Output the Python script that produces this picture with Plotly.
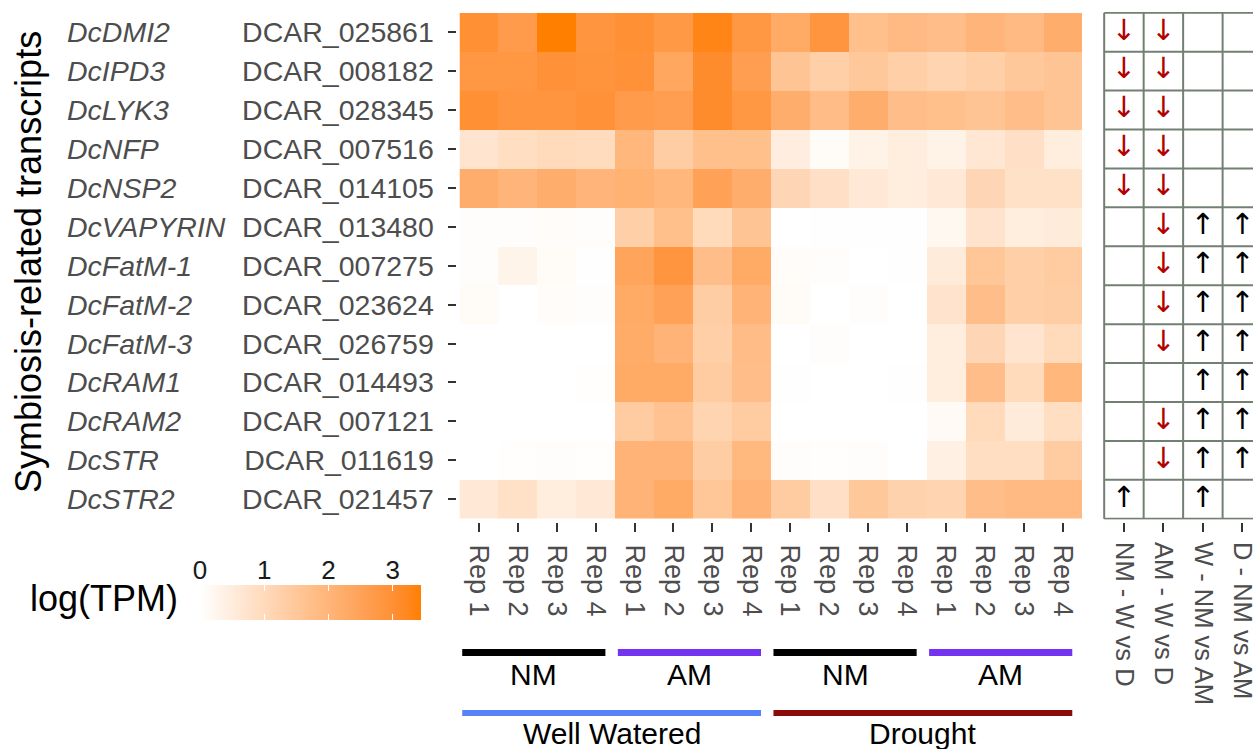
import numpy as np
import plotly.graph_objects as go

# ---- data -------------------------------------------------------------
genes = ["DcDMI2", "DcIPD3", "DcLYK3", "DcNFP", "DcNSP2", "DcVAPYRIN",
         "DcFatM-1", "DcFatM-2", "DcFatM-3", "DcRAM1", "DcRAM2", "DcSTR", "DcSTR2"]
transcripts = ["DCAR_025861", "DCAR_008182", "DCAR_028345", "DCAR_007516",
               "DCAR_014105", "DCAR_013480", "DCAR_007275", "DCAR_023624",
               "DCAR_026759", "DCAR_014493", "DCAR_007121", "DCAR_011619",
               "DCAR_021457"]
reps = ["Rep 1", "Rep 2", "Rep 3", "Rep 4"]

# log(TPM): one row per transcript, one column per replicate
ww_nm = [
    [3.00, 2.70, 3.44, 2.85],
    [2.80, 2.80, 2.95, 2.90],
    [3.00, 2.85, 2.85, 2.95],
    [0.70, 0.90, 1.00, 0.95],
    [2.20, 2.00, 2.20, 2.00],
    [0.05, 0.05, 0.08, 0.05],
    [0.05, 0.30, 0.10, 0.02],
    [0.10, 0.00, 0.08, 0.05],
    [0.00, 0.00, 0.00, 0.00],
    [0.00, 0.00, 0.00, 0.03],
    [0.00, 0.00, 0.00, 0.00],
    [0.00, 0.03, 0.05, 0.03],
    [0.60, 0.80, 0.50, 0.60],
]
ww_am = [
    [3.00, 2.75, 3.30, 2.80],
    [2.95, 2.40, 3.10, 2.60],
    [2.70, 2.60, 3.10, 2.80],
    [1.95, 1.35, 1.70, 1.70],
    [2.10, 1.95, 2.50, 2.20],
    [1.30, 1.70, 1.00, 1.60],
    [2.45, 2.85, 1.75, 2.30],
    [2.30, 2.50, 1.35, 2.05],
    [2.25, 2.05, 1.30, 1.80],
    [2.30, 2.30, 1.40, 1.75],
    [1.40, 1.65, 1.15, 1.40],
    [2.05, 2.05, 1.35, 1.90],
    [2.05, 2.30, 1.55, 2.05],
]
d_nm = [
    [2.30, 2.85, 1.70, 1.85],
    [1.60, 1.30, 1.50, 1.30],
    [2.20, 1.80, 2.20, 1.75],
    [0.45, 0.10, 0.35, 0.50],
    [1.10, 0.85, 0.60, 0.50],
    [0.00, 0.02, 0.02, 0.02],
    [0.08, 0.05, 0.00, 0.02],
    [0.12, 0.00, 0.05, 0.00],
    [0.00, 0.06, 0.00, 0.00],
    [0.02, 0.00, 0.00, 0.02],
    [0.00, 0.00, 0.00, 0.00],
    [0.05, 0.03, 0.05, 0.00],
    [1.40, 0.85, 1.50, 1.20],
]
d_am = [
    [1.75, 2.00, 1.85, 2.20],
    [1.15, 1.30, 1.50, 1.60],
    [1.70, 1.60, 1.75, 1.60],
    [0.35, 0.65, 0.85, 0.50],
    [0.60, 1.10, 0.80, 0.80],
    [0.20, 0.75, 0.50, 0.55],
    [0.55, 1.55, 1.30, 1.40],
    [0.75, 1.75, 1.30, 1.35],
    [0.50, 1.10, 0.70, 1.00],
    [0.50, 1.75, 1.00, 1.95],
    [0.15, 1.00, 0.55, 0.90],
    [0.40, 0.90, 0.90, 1.40],
    [1.15, 1.75, 1.85, 1.85],
]

groups = ["NM", "AM", "NM", "AM"]
group_colors = ["#000000", "#7433F0", "#000000", "#7433F0"]
watering = ["Well Watered", "Drought"]
watering_colors = ["#5882F8", "#8B0A0A"]

comparisons = ["NM - W vs D", "AM - W vs D", "W - NM vs AM", "D - NM vs AM"]
# direction of significant change per transcript for each comparison
nm_w_vs_d = ["down"] * 5 + [""] * 7 + ["up"]
am_w_vs_d = ["down"] * 9 + [""] + ["down"] * 2 + [""]
w_nm_vs_am = [""] * 5 + ["up"] * 8
d_nm_vs_am = [""] * 5 + ["up"] * 7 + [""]

# ---- colour scale: white -> darkorange1, interpolated in CIELAB --------
def _hex_to_lab(h):
    rgb = np.array([int(h[i:i + 2], 16) for i in (1, 3, 5)]) / 255.0
    lin = np.where(rgb <= 0.04045, rgb / 12.92, ((rgb + 0.055) / 1.055) ** 2.4)
    m = np.array([[0.4124, 0.3576, 0.1805],
                  [0.2126, 0.7152, 0.0722],
                  [0.0193, 0.1192, 0.9505]])
    xyz = m @ lin / np.array([0.95047, 1.0, 1.08883])
    f = np.where(xyz > 0.008856, np.cbrt(xyz), 7.787 * xyz + 16 / 116)
    return np.array([116 * f[1] - 16, 500 * (f[0] - f[1]), 200 * (f[1] - f[2])])


def _lab_to_hex(lab):
    L, a, b = lab
    fy = (L + 16) / 116
    fx = fy + a / 500
    fz = fy - b / 200
    f = np.array([fx, fy, fz])
    xyz = np.where(f ** 3 > 0.008856, f ** 3, (f - 16 / 116) / 7.787)
    xyz = xyz * np.array([0.95047, 1.0, 1.08883])
    mi = np.array([[3.2406, -1.5372, -0.4986],
                   [-0.9689, 1.8758, 0.0415],
                   [0.0557, -0.2040, 1.0570]])
    lin = np.clip(mi @ xyz, 0, 1)
    rgb = np.where(lin <= 0.0031308, 12.92 * lin, 1.055 * lin ** (1 / 2.4) - 0.055)
    r, g, bb = (np.clip(rgb, 0, 1) * 255).round().astype(int)
    return f"#{r:02X}{g:02X}{bb:02X}"


lab_lo, lab_hi = _hex_to_lab("#FFFFFF"), _hex_to_lab("#FF7F00")
colorscale = [[t, _lab_to_hex(lab_lo + (lab_hi - lab_lo) * t)]
              for t in np.linspace(0, 1, 21)]

# ---- assemble matrix ----------------------------------------------------
z = np.hstack([np.array(ww_nm), np.array(ww_am), np.array(d_nm), np.array(d_am)])
zmin, zmax = 0.0, float(z.max())
n_rows, n_cols = z.shape
col_labels = reps * 4

# ---- layout helpers (pixel -> paper) -----------------------------------
W, H = 1253, 749
def px(x):
    return x / W
def py(y):
    return 1 - y / H

GRAY_TXT = "#4D4D4D"
FONT = "Liberation Sans, Arial, Helvetica, sans-serif"

fig = go.Figure()

fig.add_trace(go.Heatmap(
    z=z, x=list(range(n_cols)), y=list(range(n_rows)),
    colorscale=colorscale, zmin=zmin, zmax=zmax, showscale=False,
    xaxis="x", yaxis="y", hoverinfo="skip",
))

# colour key drawn as a gradient strip on its own axis
key_vals = np.linspace(zmin, zmax, 256)
fig.add_trace(go.Heatmap(
    z=[key_vals], x=key_vals, y=[0],
    colorscale=colorscale, zmin=zmin, zmax=zmax, showscale=False,
    xaxis="x3", yaxis="y3", hoverinfo="skip",
))

# significance arrows
arrow_cols = [nm_w_vs_d, am_w_vs_d, w_nm_vs_am, d_nm_vs_am]
for direction, glyph, colour in (("down", "↓", "#B40000"), ("up", "↑", "#000000")):
    ax, ay = [], []
    for ci, col in enumerate(arrow_cols):
        for ri, v in enumerate(col):
            if v == direction:
                ax.append(ci)
                ay.append(ri)
    fig.add_trace(go.Scatter(
        x=ax, y=ay, text=[glyph] * len(ax), mode="text", textposition="middle center",
        textfont=dict(size=29, color=colour, family="DejaVu Sans"),
        xaxis="x2", yaxis="y2", hoverinfo="skip", showlegend=False, cliponaxis=False,
    ))

shapes = []
grid_col = "#737F73"
for k in range(len(comparisons) + 1):
    shapes.append(dict(type="line", xref="x2", yref="y2", x0=k - 0.5, x1=k - 0.5,
                       y0=-0.5, y1=n_rows - 0.5, line=dict(color=grid_col, width=2)))
for k in range(n_rows + 1):
    shapes.append(dict(type="line", xref="x2", yref="y2", x0=-0.5, x1=len(comparisons) - 0.5,
                       y0=k - 0.5, y1=k - 0.5, line=dict(color=grid_col, width=2)))

annotations = []
# group bars and labels under the sample columns
for gi, (g, c) in enumerate(zip(groups, group_colors)):
    x0 = gi * 4 - 0.5 + 0.07
    x1 = gi * 4 + 3.5 - 0.25
    shapes.append(dict(type="rect", xref="x", yref="paper", x0=x0, x1=x1,
                       y0=py(656), y1=py(649), fillcolor=c, line=dict(width=0)))
    annotations.append(dict(text=g, xref="x", yref="paper", x=(x0 + x1) / 2, y=py(674),
                            showarrow=False, xanchor="center", yanchor="middle",
                            font=dict(size=30, color="#000000", family=FONT)))
for wi, (wl, c) in enumerate(zip(watering, watering_colors)):
    x0 = wi * 8 - 0.5 + 0.07
    x1 = wi * 8 + 7.5 - 0.25
    shapes.append(dict(type="rect", xref="x", yref="paper", x0=x0, x1=x1,
                       y0=py(716), y1=py(710), fillcolor=c, line=dict(width=0)))
    annotations.append(dict(text=wl, xref="x", yref="paper", x=(x0 + x1) / 2, y=py(733),
                            showarrow=False, xanchor="center", yanchor="middle",
                            font=dict(size=30, color="#000000", family=FONT)))

# italic gene names
for ri, g in enumerate(genes):
    annotations.append(dict(text=f"<i>{g}</i>", xref="paper", yref="y", x=px(65), y=ri,
                            showarrow=False, xanchor="left", yanchor="middle",
                            font=dict(size=28.5, color=GRAY_TXT, family=FONT)))

annotations.append(dict(text="Symbiosis-related transcripts", xref="paper", yref="paper",
                        x=px(28), y=py(262), textangle=-90, showarrow=False,
                        xanchor="center", yanchor="middle",
                        font=dict(size=36, color="#000000", family=FONT)))
annotations.append(dict(text="log(TPM)", xref="paper", yref="paper",
                        x=px(104), y=py(598), showarrow=False,
                        xanchor="center", yanchor="middle",
                        font=dict(size=36, color="#000000", family=FONT)))

tick_common = dict(ticks="outside", tickwidth=2, tickcolor="#333333", automargin=False,
                   showgrid=False, zeroline=False, showline=False)

fig.update_layout(
    width=W, height=H,
    margin=dict(l=0, r=0, t=0, b=0, autoexpand=False),
    paper_bgcolor="white", plot_bgcolor="white",
    showlegend=False,
    font=dict(family=FONT),
    xaxis=dict(domain=[px(459.5), px(1082)], range=[-0.5, n_cols - 0.5],
               tickvals=list(range(n_cols)), ticktext=col_labels, tickangle=90,
               ticklen=9, anchor="free", position=py(522), ticklabelstandoff=7,
               tickfont=dict(size=27, color=GRAY_TXT), **tick_common),
    yaxis=dict(domain=[py(518.5), py(13)], range=[n_rows - 0.5, -0.5],
               tickvals=list(range(n_rows)), ticktext=transcripts,
               ticklen=8, anchor="free", position=px(455.5), ticklabelstandoff=8,
               tickfont=dict(size=28.5, color=GRAY_TXT), **tick_common),
    xaxis2=dict(domain=[px(1103), 1], range=[-0.53, 3.27],
                tickvals=list(range(len(comparisons))), ticktext=comparisons,
                tickangle=90, ticklen=9, anchor="free", position=py(522),
                ticklabeloverflow="allow",
                ticklabelstandoff=5, tickfont=dict(size=25.5, color=GRAY_TXT), **tick_common),
    yaxis2=dict(domain=[py(519.5), py(12)], range=[n_rows - 0.5 + 0.02, -0.5 - 0.02],
                showticklabels=False, showgrid=False, zeroline=False, anchor="x2",
                automargin=False),
    xaxis3=dict(domain=[px(200), px(421)], range=[zmin, zmax], side="top",
                tickvals=[0, 1, 2, 3], ticks="inside", tickcolor="white", ticklen=6,
                tickwidth=1, mirror="ticks", anchor="y3", showgrid=False, zeroline=False,
                automargin=False,
                ticklabelstandoff=0, tickfont=dict(size=26, color="#1A1A1A")),
    yaxis3=dict(domain=[py(620), py(585)], range=[-0.5, 0.5], showticklabels=False,
                showgrid=False, zeroline=False, anchor="x3", automargin=False),
    shapes=shapes,
    annotations=annotations,
)

fig.write_html("out.html")
